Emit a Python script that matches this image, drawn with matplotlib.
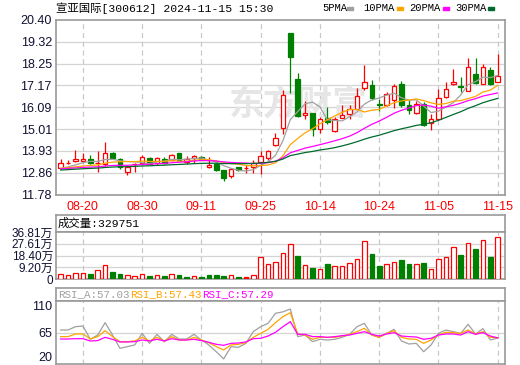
import numpy as np
import pandas as pd
import matplotlib
matplotlib.use("Agg")
import matplotlib.pyplot as plt
from matplotlib.patches import Rectangle

# ---- data ----
dates = ["08-15", "08-16", "08-19", "08-20", "08-21", "08-22", "08-23", "08-26", "08-27", "08-28",
         "08-29", "08-30", "09-02", "09-03", "09-04", "09-05", "09-06", "09-09", "09-10", "09-11",
         "09-12", "09-13", "09-18", "09-19", "09-20", "09-23", "09-24", "09-25", "09-26", "09-27",
         "09-30", "10-08", "10-09", "10-10", "10-11", "10-14", "10-15", "10-16", "10-17", "10-18",
         "10-21", "10-22", "10-23", "10-24", "10-25", "10-28", "10-29", "10-30", "10-31", "11-01",
         "11-04", "11-05", "11-06", "11-07", "11-08", "11-11", "11-12", "11-13", "11-14", "11-15"]

open_ = [13.09, 13.34, 13.43, 13.43, 13.51, 13.32, 13.28, 13.85, 13.54, 12.91,
         13.28, 13.35, 13.59, 13.35, 13.54, 13.48, 13.82, 13.40, 13.56, 13.61,
         13.12, 13.27, 12.97, 12.71, 13.12, 13.07, 13.14, 13.38, 13.60, 14.24,
         15.08, 19.77, 17.48, 15.71, 15.79, 15.00, 15.58, 14.90, 15.56, 15.76,
         16.01, 17.06, 17.21, 16.24, 16.19, 16.47, 17.23, 16.19, 15.81, 16.24,
         15.31, 15.50, 16.60, 17.26, 17.16, 16.90, 17.73, 17.26, 17.92, 17.35]
high = [13.51, 13.46, 14.00, 13.85, 13.75, 13.93, 14.37, 13.87, 13.59, 13.25,
        13.33, 13.75, 13.64, 13.62, 13.64, 13.77, 13.85, 13.67, 13.74, 13.67,
        13.61, 13.33, 13.00, 13.05, 13.15, 13.22, 13.47, 13.91, 13.96, 14.84,
        16.93, 19.77, 17.76, 16.39, 15.82, 15.61, 16.12, 15.60, 16.19, 16.19,
        17.02, 18.17, 17.43, 16.49, 16.85, 17.23, 17.41, 16.44, 16.40, 16.36,
        15.78, 16.98, 17.35, 17.96, 17.56, 18.50, 18.50, 18.22, 18.09, 18.72]
low = [13.04, 13.28, 13.39, 13.35, 13.30, 12.90, 13.17, 13.52, 13.05, 12.76,
       12.88, 13.28, 13.28, 13.23, 13.28, 13.43, 13.46, 13.30, 13.35, 13.46,
       13.10, 12.95, 12.44, 12.61, 12.95, 12.85, 12.85, 12.81, 13.50, 14.16,
       14.79, 16.80, 15.60, 15.50, 14.67, 14.82, 15.28, 14.87, 15.56, 15.50,
       15.98, 16.92, 16.44, 15.91, 16.14, 16.07, 16.12, 15.74, 15.74, 15.15,
       14.98, 15.45, 16.55, 17.18, 16.85, 16.90, 17.26, 17.23, 17.18, 17.35]
close = [13.36, 13.36, 13.51, 13.51, 13.35, 13.34, 13.83, 13.56, 13.15, 13.14,
         13.30, 13.61, 13.31, 13.57, 13.35, 13.74, 13.49, 13.51, 13.67, 13.49,
         13.25, 13.00, 12.61, 13.02, 12.99, 13.09, 13.33, 13.66, 13.91, 14.59,
         16.69, 18.55, 15.65, 15.83, 15.00, 15.50, 15.36, 15.50, 15.73, 16.02,
         16.64, 17.33, 16.55, 16.19, 16.72, 17.13, 16.22, 15.94, 16.27, 15.20,
         15.51, 16.57, 16.97, 17.33, 17.10, 18.06, 17.30, 18.09, 17.23, 17.61]

# closes before the window, estimated from where the MA lines start
prev_close = [12.80, 12.85, 12.90, 12.82, 12.88, 12.92, 12.86, 12.84, 12.90, 12.93,
              12.98, 13.02, 13.05, 13.00, 13.08, 13.04, 12.99, 13.03, 13.06, 13.05,
              13.04, 13.10, 13.08, 13.06, 13.06, 12.98, 13.05, 12.95, 13.02]

# volume in 万 (10k shares), colour as shown on the bars (R hollow red, G green, F filled red)
volume = [3.7, 2.9, 4.5, 4.5, 3.9, 6.8, 10.8, 5.5, 3.9, 2.9,
          2.1, 3.7, 2.4, 2.9, 2.4, 3.7, 3.2, 1.6, 2.1, 1.6,
          3.2, 3.2, 2.4, 2.9, 1.6, 1.6, 2.9, 17.1, 11.8, 13.4,
          20.5, 27.6, 18.1, 10.8, 8.7, 7.6, 11.8, 10.0, 10.0, 12.4,
          15.5, 29.7, 19.7, 10.3, 11.8, 13.2, 15.0, 11.8, 11.8, 12.6,
          7.6, 15.5, 17.1, 25.0, 18.9, 28.1, 23.7, 30.5, 17.4, 32.9751]
vol_color = "RRRRGRRGGRRRGRGRGGRGGGGRGFRRRRRRGRGRGRRRRRGGRRGGRGRRRRGRGRGR"

rsi_a = [68.6, 68.6, 73.3, 74.3, 55.3, 61.4, 79.1, 61.4, 42.4, 44.8,
         47.2, 63.8, 49.5, 62.4, 51.9, 62.4, 55.7, 55.7, 62.4, 54.3,
         47.2, 37.6, 27.2, 44.8, 43.8, 49.5, 66.2, 73.3, 78.1, 92.4,
         94.5, 98.5, 59.1, 61.4, 51.9, 55.3, 54.3, 55.3, 58.1, 62.4,
         73.3, 78.1, 61.4, 58.1, 63.8, 69.5, 52.9, 48.6, 49.5, 37.6,
         47.2, 63.8, 68.6, 66.2, 63.8, 76.7, 62.9, 70.5, 54.3, 57.03]
rsi_b = [59.1, 59.1, 62.9, 62.9, 55.7, 59.1, 67.6, 59.1, 51.9, 51.9,
         52.9, 58.1, 52.9, 58.1, 52.9, 59.1, 54.3, 54.3, 58.1, 54.3,
         50.5, 44.8, 40.0, 47.2, 48.1, 50.5, 58.1, 63.8, 69.5, 79.1,
         87.6, 93.3, 62.9, 61.4, 55.3, 58.1, 58.1, 58.1, 60.0, 62.4,
         66.2, 71.0, 61.4, 58.1, 63.8, 67.6, 58.1, 55.7, 55.3, 49.5,
         54.3, 61.4, 65.3, 64.8, 63.8, 68.6, 62.9, 66.2, 58.1, 57.43]
rsi_c = [55.7, 55.7, 56.2, 56.2, 52.9, 53.4, 58.1, 55.3, 51.5, 51.5,
         51.9, 54.3, 52.9, 55.3, 52.9, 56.2, 54.3, 54.3, 55.3, 53.4,
         51.0, 48.1, 46.7, 49.5, 50.0, 51.5, 56.2, 56.7, 60.0, 65.3,
         73.3, 80.5, 62.4, 62.4, 59.1, 59.1, 58.1, 59.1, 60.5, 61.4,
         63.8, 66.2, 62.4, 60.0, 62.9, 64.8, 60.0, 59.1, 58.6, 55.3,
         56.7, 61.4, 62.9, 62.9, 61.4, 66.2, 62.4, 64.8, 60.0, 57.29]

price_ticks = [11.78, 12.86, 13.93, 15.01, 16.09, 17.17, 18.25, 19.32, 20.40]
vol_ticks = [0, 9.20, 18.40, 27.61, 36.81]
vol_labels = ["0", "9.20万", "18.40万", "27.61万", "36.81万"]
rsi_ticks = [20, 65, 110]
date_ticks = [3, 11, 19, 27, 35, 43, 51, 59]

title = "宣亚国际[300612] 2024-11-15 15:30"
ma_names = ["5PMA", "10PMA", "20PMA", "30PMA"]

# ---- style ----
RED = "#ff0000"
GREEN = "#008000"
MA_COLORS = ["#a0a0a0", "#ffa500", "#ff00ff", "#006a2e"]
FRAME = "#999999"
GRID = "#d4d4d4"
TICK = "#111133"
CJK = ["Liberation Mono", "Noto Sans CJK SC"]

W, H = 520, 365
fig = plt.figure(figsize=(W / 100, H / 100), dpi=100)


def box(l, t, r, b):
    return [l / W, 1 - b / H, (r - l) / W, (b - t) / H]


x = np.arange(len(close))
xlim = (-0.63, len(close) - 0.02)


def frame(ax):
    for s in ax.spines.values():
        s.set_color(FRAME)
        s.set_linewidth(1.2)
    ax.set_xlim(*xlim)


def vgrid(ax):
    for d in date_ticks:
        ax.axvline(d, color="#c8c8c8", lw=0.9, ls=(0, (4, 3)), zorder=0)


# ---- price panel ----
ax = fig.add_axes(box(56, 20, 505, 194.5))
frame(ax)
ax.set_ylim(price_ticks[0], price_ticks[-1])
for p in price_ticks[1:-1]:
    ax.axhline(p, color=GRID, lw=0.9, zorder=0)
vgrid(ax)
ax.text(0.54, 0.52, "东方财富", transform=ax.transAxes, ha="center", va="center",
        fontsize=25, fontweight="bold", color="#e6e6e6", family="Noto Sans CJK SC",
        zorder=0)

o = np.array(open_)
c = np.array(close)
up = c >= o
colors = np.where(up, RED, GREEN)
ax.vlines(x, low, high, colors=colors, lw=0.9, zorder=2)
body = np.maximum(np.abs(c - o), 0.015)
ax.bar(x, body, bottom=np.minimum(o, c), width=0.62,
       color=np.where(up, "white", GREEN), edgecolor=colors, lw=0.9, zorder=3)

allc = pd.Series(prev_close + close)
for n, col in zip([5, 10, 20, 30], MA_COLORS):
    ma = allc.rolling(n).mean().to_numpy()[len(prev_close):]
    ax.plot(x, ma, color=col, lw=0.9, zorder=4)

ax.set_yticks(price_ticks)
ax.set_yticklabels([f"{p:.2f}" for p in price_ticks])
ax.set_xticks(date_ticks)
ax.set_xticklabels([dates[i] for i in date_ticks])
ax.tick_params(axis="y", length=0, pad=3, labelsize=9, labelcolor=TICK)
ax.tick_params(axis="x", length=0, pad=5, labelsize=9, labelcolor=RED)
for t in ax.get_xticklabels() + ax.get_yticklabels():
    t.set_family("Liberation Sans")

fig.text(56 / W, 1 - 8 / H, title, ha="left", va="center", fontsize=8.2, family=CJK)

# legend at the top right
leg_x = [322, 363, 409, 455]
sw_x = [347, 397, 443, 488]
for name, col, tx, sx in zip(ma_names, MA_COLORS, leg_x, sw_x):
    fig.text(tx / W, 1 - 8 / H, name, ha="left", va="center", fontsize=7.6,
             family="Liberation Mono")
    fig.patches.append(Rectangle((sx / W, 1 - 9.5 / H), 6 / W, 3 / H,
                                 transform=fig.transFigure, color=col))

# ---- volume panel ----
axh = fig.add_axes(box(56, 215, 505, 232))
frame(axh)
axh.set_xticks([])
axh.set_yticks([])
axh.text(2 / 449, 0.5, "成交量:329751", transform=axh.transAxes, ha="left",
         va="center", fontsize=8.2, family=CJK)

axv = fig.add_axes(box(56, 232, 505, 279))
frame(axv)
axv.set_ylim(0, vol_ticks[-1])
for v in vol_ticks[1:-1]:
    axv.axhline(v, color=GRID, lw=0.9, zorder=0)
vgrid(axv)
vfill = ["white" if k == "R" else (GREEN if k == "G" else RED) for k in vol_color]
vedge = [GREEN if k == "G" else RED for k in vol_color]
axv.bar(x, volume, width=0.62, color=vfill, edgecolor=vedge, lw=0.9, zorder=3)
axv.set_yticks(vol_ticks)
axv.set_yticklabels(vol_labels)
axv.set_xticks([])
axv.tick_params(axis="y", length=0, pad=2, labelsize=8.5, labelcolor=TICK)
for t in axv.get_yticklabels():
    t.set_family(["Liberation Sans", "Noto Sans CJK SC"])

# ---- RSI panel ----
axrh = fig.add_axes(box(56, 288, 505, 301))
frame(axrh)
axrh.set_xticks([])
axrh.set_yticks([])
for lab, val, col, tx in zip(["RSI_A", "RSI_B", "RSI_C"],
                             [rsi_a[-1], rsi_b[-1], rsi_c[-1]],
                             MA_COLORS[:3], [58, 130, 202]):
    fig.text(tx / W, 1 - 294.5 / H, f"{lab}:{val:.2f}", ha="left", va="center",
             fontsize=7.8, family="Liberation Mono", color=col)

axr = fig.add_axes(box(56, 301, 505, 364))
frame(axr)
axr.set_ylim(20, 110)
axr.axhline(65, color=GRID, lw=0.9, zorder=0)
vgrid(axr)
for vals, col in zip([rsi_a, rsi_b, rsi_c], MA_COLORS[:3]):
    axr.plot(x, vals, color=col, lw=0.9, zorder=3)
axr.set_yticks(rsi_ticks)
axr.set_yticklabels([str(t) for t in rsi_ticks])
axr.set_xticks([])
axr.tick_params(axis="y", length=0, pad=3, labelsize=9, labelcolor=TICK)
labs = axr.get_yticklabels()
labs[0].set_va("bottom")
labs[-1].set_va("top")
for t in labs:
    t.set_family("Liberation Sans")

fig.savefig("out.png", dpi=100)
